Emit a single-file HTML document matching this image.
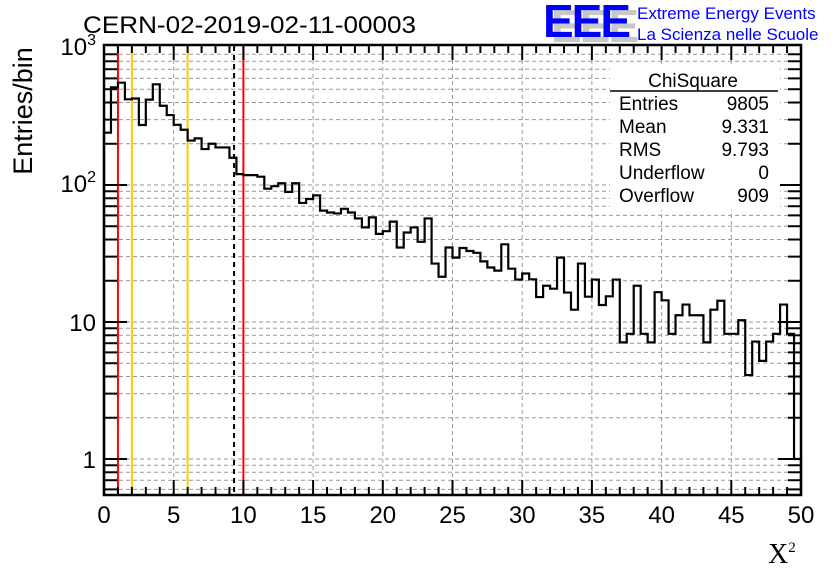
<!DOCTYPE html>
<html><head><meta charset="utf-8"><style>
body{margin:0;background:#fff}
svg text{font-family:"Liberation Sans",sans-serif}
</style></head><body>
<svg id="c" width="836" height="572" xmlns="http://www.w3.org/2000/svg">
<rect width="836" height="572" fill="#fff"/>
<g id="grid"></g>
<g id="vlines"></g>
<path id="hist" fill="none" stroke="#000" stroke-width="2.2"/>
<rect x="104" y="45" width="697" height="450" fill="none" stroke="#000" stroke-width="2.5"/>
<g id="ticks"></g>
<g id="labels" font-size="24"></g>
<text x="83" y="33" font-size="24" textLength="333" lengthAdjust="spacingAndGlyphs">CERN-02-2019-02-11-00003</text>
<text transform="translate(32,111) rotate(-90)" text-anchor="middle" font-size="27">Entries/bin</text>
<text x="768" y="563" font-size="28" style="font-family:'Liberation Serif',serif">X<tspan dy="-11" font-size="15">2</tspan></text>
<g>
<text x="551" y="42" font-size="46" font-weight="bold" fill="#c8c8c8" letter-spacing="-2">EEE</text>
<text x="543" y="37" font-size="46" font-weight="bold" fill="#0000ff" letter-spacing="-2">EEE</text>
<text x="637" y="19" font-size="17" fill="#0000ff">Extreme Energy Events</text>
<text x="637" y="40" font-size="17" fill="#0000ff">La Scienza nelle Scuole</text>
</g>
<g font-size="19">
<rect x="610" y="64" width="170" height="146" fill="#fff"/>
<text x="693" y="87" text-anchor="middle">ChiSquare</text>
<line x1="610" y1="91" x2="778" y2="91" stroke="#000" stroke-width="1.5"/>
<text x="619" y="110">Entries</text><text x="769" y="110" text-anchor="end">9805</text>
<text x="619" y="133">Mean</text><text x="769" y="133" text-anchor="end">9.331</text>
<text x="619" y="156">RMS</text><text x="769" y="156" text-anchor="end">9.793</text>
<text x="619" y="179">Underflow</text><text x="769" y="179" text-anchor="end">0</text>
<text x="619" y="202">Overflow</text><text x="769" y="202" text-anchor="end">909</text>
</g>
</svg>
<script>
const counts=[241,516,558,422,428,274,420,543,379,324,275,253,211,219,183,200,188,188,158,120,
118,118,115,94,98,103,89,103,74,79,84,65,63,62,67,63,57,49,58,44,
46,54,35,45,49,38.5,57,26.7,21.4,35,29.5,34.7,33,32,27.7,25,23.7,36.9,24.5,20.4,
22.6,20.5,15.2,18.4,17.5,29.5,16.4,12.3,26.7,15.3,20.4,13.3,15.4,20.4,7.1,8.2,18.4,8.2,7.1,16.5,
14.4,8.2,11.2,13.4,11.2,11.2,7.1,12.3,14.3,8.2,8.2,10.3,4.1,7.2,5.2,7.2,8.2,13.4,8.2,1];
const binWidth=0.5;
const refLines=[{x:1,c:"#ff0000",d:""},{x:2,c:"#ffcc00",d:""},{x:6,c:"#ffcc00",d:""},{x:9.331,c:"#000",d:"5,4"},{x:10,c:"#ff0000",d:""}];
const xTicks=[0,5,10,15,20,25,30,35,40,45,50];
const yDecades=[1,10,100,1000];
const yLabels=["1","10","10²","10³"];
const NS="http://www.w3.org/2000/svg";
const X=v=>104+v*(697/50);
const Y=v=>459-137*Math.log10(v);
function el(t,a,p){const e=document.createElementNS(NS,t);for(const k in a)e.setAttribute(k,a[k]);document.getElementById(p).appendChild(e);return e;}
for(const t of xTicks.slice(1,-1)){const e=el('line',{x1:X(t),x2:X(t),y1:46,y2:494,stroke:'#999','stroke-dasharray':'4,3','stroke-width':1},'grid');

}
for(const d of [0.1,1,10,100])for(let m=1;m<10;m++){const v=d*m;const y=Y(v);if(y<46||y>494)continue;
const e=el('line',{x1:105,x2:800,y1:y,y2:y,stroke:'#999','stroke-dasharray':'4,3','stroke-width':1},'grid');


for(const [x0,s] of [[105,1],[800,-1]]){const len=m===1?22:12;const t=el('line',{x1:x0,x2:x0+s*len,y1:y,y2:y,stroke:'#000','stroke-width':2},'ticks');

}}
for(let i=0;i<=50;i++){const len=i%5===0?14:7;const x=X(i);
for(const [y0,s] of [[494,-1],[46,1]]){const t=el('line',{x1:x,x2:x,y1:y0,y2:y0+s*len,stroke:'#000','stroke-width':2},'ticks');

}}
for(const t of xTicks){const e=el('text',{x:X(t),y:523,'text-anchor':'middle'},'labels');e.textContent=t;

}
yDecades.forEach((d,i)=>{const e=el('text',{x:96,y:Y(d)+(d>=100?7:9),'text-anchor':'end'},'labels');
const lab=yLabels[i];
if(lab.length>2){e.textContent=lab.slice(0,2);const ts=document.createElementNS(NS,'tspan');ts.setAttribute('dy','-10');ts.setAttribute('font-size','16');ts.textContent=lab==="10²"?"2":"3";e.appendChild(ts);}
else e.textContent=lab;

});
for(const r of refLines){const a={x1:X(r.x),x2:X(r.x),y1:46,y2:494,stroke:r.c,'stroke-width':2};if(r.d)a['stroke-dasharray']=r.d;
const e=el('line',a,'vlines');

}
let d=`M${X(0)},494`;
counts.forEach((c,i)=>{const y=Math.max(46,Math.min(494,Y(c)));d+=`L${X(i*binWidth)},${y}L${X((i+1)*binWidth)},${y}`;});
d+=`L${X(counts.length*binWidth)},494`;
document.getElementById('hist').setAttribute('d',d);
</script>
</body></html>
